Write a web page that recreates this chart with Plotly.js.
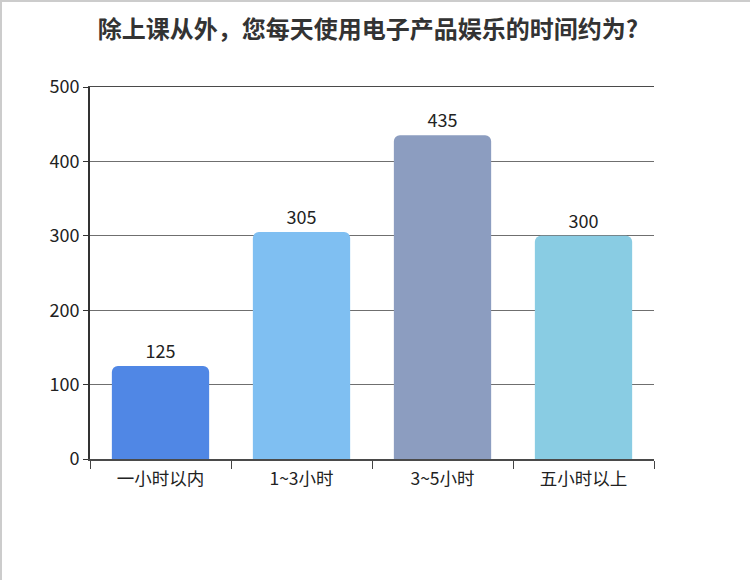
<!DOCTYPE html>
<html>
<head>
<meta charset="utf-8">
<script src="https://cdn.plot.ly/plotly-3.0.1.min.js"></script>
<style>
  html, body { margin: 0; padding: 0; background: #fff; }
  #wrap { position: relative; width: 750px; height: 580px; }
  #chart { width: 750px; height: 580px; }
  #frame { position: absolute; left: 0; top: 0; width: 750px; height: 580px;
           border-top: 2px solid #cccccc; border-left: 2px solid #cccccc;
           box-sizing: border-box; pointer-events: none; }
</style>
</head>
<body>
<div id="wrap">
  <div id="chart"></div>
  <div id="frame"></div>
</div>
<script>
const categories = ["一小时以内", "1~3小时", "3~5小时", "五小时以上"];
const values = [125, 305, 435, 300];
const barColors = ["#5087e5", "#7fbff2", "#8c9dc0", "#89cce3"];
const yTicks = [0, 100, 200, 300, 400, 500];

const font = '"Noto Sans CJK SC", "Noto Sans", sans-serif';

const trace = {
  type: "bar",
  x: categories,
  y: values,
  text: values.map(String),
  textposition: "outside",
  textfont: { family: font, size: 18, color: "#222" },
  cliponaxis: false,
  marker: { color: barColors, cornerradius: 6, line: { width: 0 } },
  hoverinfo: "x+y"
};

const layout = {
  width: 750,
  height: 580,
  margin: { l: 90, r: 96, t: 87, b: 121 },
  paper_bgcolor: "#ffffff",
  plot_bgcolor: "#ffffff",
  bargap: 0.31,
  showlegend: false,
  title: {
    text: "<b>除上课从外，您每天使用电子产品娱乐的时间约为?</b>",
    font: { family: font, size: 24, color: "#333333" },
    x: 368 / 750, xanchor: "center",
    y: 1 - 30 / 580, yanchor: "middle", yref: "container"
  },
  xaxis: {
    type: "category",
    showgrid: false,
    showline: true, linecolor: "#4a4a4a", linewidth: 1.5, mirror: true,
    ticks: "outside", tickson: "boundaries", ticklen: 8, tickcolor: "#444444", tickwidth: 1,
    ticklabelstandoff: 3,
    tickfont: { family: font, size: 17.5, color: "#222" },
    zeroline: false
  },
  yaxis: {
    range: [0, 500],
    tickvals: yTicks,
    ticktext: yTicks.map(String),
    showgrid: true, gridcolor: "#6f6f6f", gridwidth: 1.3,
    showline: true, linecolor: "#333333", linewidth: 2,
    ticks: "outside", ticklen: 5, tickcolor: "#333333", tickwidth: 1,
    tickfont: { family: font, size: 18, color: "#222" },
    zeroline: false
  }
};

Plotly.newPlot("chart", [trace], layout, { displayModeBar: false, staticPlot: true });
</script>
</body>
</html>
